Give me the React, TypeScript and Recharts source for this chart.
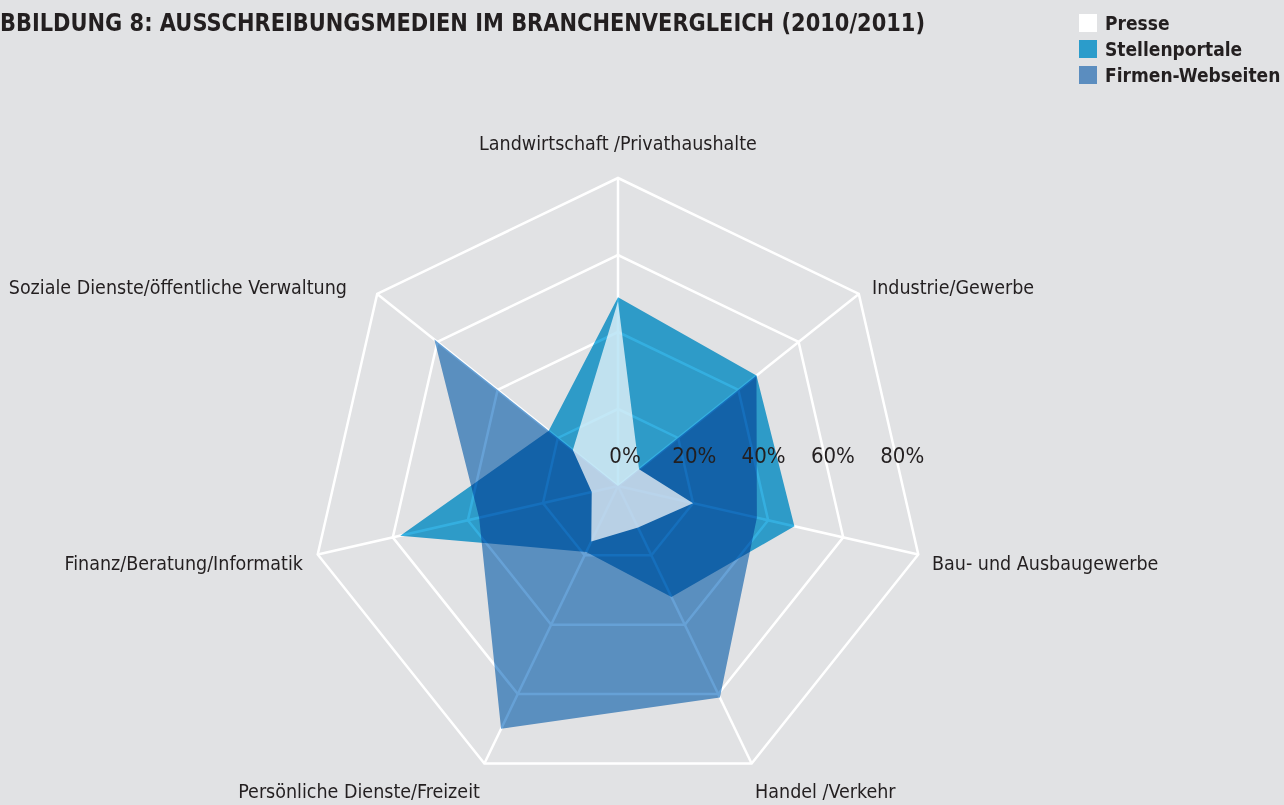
import React from 'react';
import { RadarChart, PolarGrid, PolarAngleAxis, PolarRadiusAxis, Radar, Legend } from 'recharts';

const categories = [
  'Landwirtschaft /Privathaushalte',
  'Industrie/Gewerbe',
  'Bau- und Ausbaugewerbe',
  'Handel /Verkehr',
  'Persönliche Dienste/Freizeit',
  'Finanz/Beratung/Informatik',
  'Soziale Dienste/öffentliche Verwaltung',
];
const presse = [48, 7, 20, 12, 16, 7, 15];
const stellenportale = [49, 46, 47, 32, 19, 58, 23];
const firmenWebseiten = [0, 46, 37, 61, 70, 37, 61];
const radiusTicks = [0, 20, 40, 60, 80];
const seriesNames = ['Presse', 'Stellenportale', 'Firmen-Webseiten'];
const title = 'BBILDUNG 8: AUSSCHREIBUNGSMEDIEN IM BRANCHENVERGLEICH (2010/2011)';

const data = categories.map((c, i) => ({
  category: c,
  presse: presse[i],
  stellen: stellenportale[i],
  firmen: firmenWebseiten[i],
}));

const W = 1284;
const H = 805;
const CX = 618;
const CY = 486;
const R = 308;
const BG = '#e1e2e4';
const TEXT = '#231f20';
const NARROW = '"Liberation Sans Narrow", "Arial Narrow", "DejaVu Sans Condensed", sans-serif';
const LEGEND_COLORS = ['#ffffff', '#2b9ccb', '#5b8dbf'];

const LABEL_OFFSETS: { dx: number; dy: number; anchor: string }[] = [
  { dx: 0, dy: -27, anchor: 'middle' },
  { dx: 7, dy: -1, anchor: 'start' },
  { dx: 6, dy: 7, anchor: 'start' },
  { dx: 0, dy: 21, anchor: 'start' },
  { dx: -1, dy: 21, anchor: 'end' },
  { dx: -7, dy: 7, anchor: 'end' },
  { dx: -24, dy: -1, anchor: 'end' },
];

const AngleTick = (props: any) => {
  const { x, y, payload } = props;
  const idx = categories.indexOf(payload.value);
  const o = LABEL_OFFSETS[idx] ?? { dx: 0, dy: 0, anchor: 'middle' };
  return (
    <text
      x={x + o.dx}
      y={y + o.dy}
      textAnchor={o.anchor as any}
      dominantBaseline="central"
      fontFamily={NARROW}
      fontSize={19.5}
      fill={TEXT}
    >
      {payload.value}
    </text>
  );
};

const RadiusTick = (props: any) => {
  const { x, y, payload } = props;
  const nx = CX + 7 + (x - CX) * 0.9;
  return (
    <text
      x={nx}
      y={y - 31}
      textAnchor="middle"
      dominantBaseline="central"
      fontFamily={NARROW}
      fontSize={22}
      fill={TEXT}
    >
      {payload.value}%
    </text>
  );
};

const LegendContent = () => (
  <div style={{ fontFamily: NARROW, fontWeight: 700, fontSize: 19, color: TEXT, lineHeight: 1, whiteSpace: 'nowrap' }}>
    {seriesNames.map((n, i) => (
      <div key={n} style={{ display: 'flex', alignItems: 'center', height: 26 }}>
        <span
          style={{ display: 'inline-block', width: 18, height: 18, background: LEGEND_COLORS[i], marginRight: 8, flex: 'none' }}
        />
        <span>{n}</span>
      </div>
    ))}
  </div>
);

export default function App() {
  return (
    <div style={{ position: 'absolute', left: 0, top: 0, width: W, height: H, background: BG, overflow: 'hidden' }}>
      <style>{`.multiply path, .multiply polygon { mix-blend-mode: multiply; }`}</style>
      <svg width={W} height={50} style={{ position: 'absolute', left: 0, top: 0 }}>
        <text
          x={0}
          y={23}
          dominantBaseline="central"
          fontFamily={NARROW}
          fontWeight={700}
          fontSize={24}
          fill={TEXT}
          textLength={925}
          lengthAdjust="spacingAndGlyphs"
        >
          {title}
        </text>
      </svg>
      <div style={{ position: 'absolute', left: 0, top: 0 }}>
        <RadarChart
          width={W}
          height={H}
          data={data}
          cx={CX}
          cy={CY}
          outerRadius={R}
          startAngle={90}
          endAngle={-270}
          margin={{ top: 0, right: 0, bottom: 0, left: 0 }}
        >
          <PolarGrid stroke="#ffffff" strokeWidth={2.5} strokeOpacity={1} />
          <PolarAngleAxis dataKey="category" tick={AngleTick} axisLine={false} tickLine={false} />
          <PolarRadiusAxis
            angle={0}
            domain={[0, 80]}
            ticks={radiusTicks as any}
            tickCount={5}
            axisLine={false}
            tickLine={false}
            tick={RadiusTick}
          />
          <Radar
            name="Stellenportale"
            dataKey="stellen"
            className="multiply"
            fill="#34afe0"
            fillOpacity={1}
            stroke="none"
            isAnimationActive={false}
          />
          <Radar
            name="Firmen-Webseiten"
            dataKey="firmen"
            className="multiply"
            fill="#66a1d6"
            fillOpacity={1}
            stroke="none"
            isAnimationActive={false}
          />
          <Radar
            name="Presse"
            dataKey="presse"
            fill="#ffffff"
            fillOpacity={0.7}
            stroke="none"
            isAnimationActive={false}
          />
          <Legend
            layout="vertical"
            align="right"
            verticalAlign="top"
            content={LegendContent}
            wrapperStyle={{ top: 10, left: 1079, width: 205 }}
          />
        </RadarChart>
      </div>
    </div>
  );
}
